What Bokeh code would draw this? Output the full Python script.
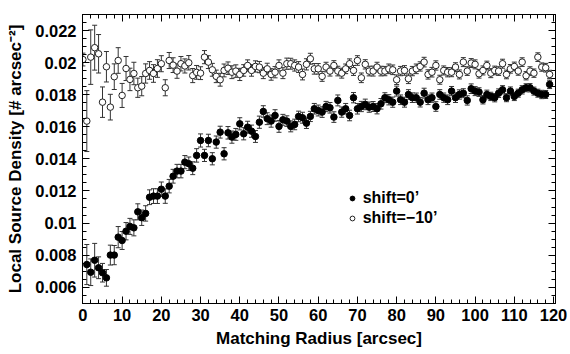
from bokeh.plotting import figure
from bokeh.models import (ColumnDataSource, Whisker, TeeHead, LinearAxis, SingleIntervalTicker,
                          CustomJSTickFormatter, Legend, LegendItem, Range1d)
from bokeh.embed import file_html
from bokeh.resources import INLINE

# ---------------- data ----------------
shift0_x = list(range(1, 120))
shift0_y = [
    0.00741, 0.00693, 0.00768, 0.00721, 0.00690, 0.00658, 0.00800, 0.00800, 0.00912, 0.00891,
    0.00949, 0.00979, 0.00970, 0.01070, 0.01033, 0.01060, 0.01161, 0.01168, 0.01168, 0.01211,
    0.01168, 0.01230, 0.01292, 0.01324, 0.01324, 0.01380, 0.01370, 0.01342, 0.01422, 0.01515,
    0.01422, 0.01515, 0.01401, 0.01505, 0.01567, 0.01432, 0.01563, 0.01536, 0.01553, 0.01619,
    0.01557, 0.01598, 0.01573, 0.01540, 0.01629, 0.01696, 0.01651, 0.01636, 0.01671, 0.01603,
    0.01644, 0.01636, 0.01603, 0.01615, 0.01665, 0.01657, 0.01623, 0.01665, 0.01713, 0.01702,
    0.01692, 0.01727, 0.01719, 0.01661, 0.01765, 0.01692, 0.01713, 0.01671, 0.01782, 0.01713,
    0.01727, 0.01740, 0.01723, 0.01727, 0.01713, 0.01744, 0.01782, 0.01769, 0.01754, 0.01823,
    0.01769, 0.01754, 0.01802, 0.01782, 0.01782, 0.01754, 0.01810, 0.01769, 0.01782, 0.01727,
    0.01802, 0.01782, 0.01769, 0.01823, 0.01782, 0.01802, 0.01810, 0.01765, 0.01838, 0.01823,
    0.01817, 0.01769, 0.01802, 0.01790, 0.01782, 0.01810, 0.01831, 0.01782, 0.01823, 0.01790,
    0.01810, 0.01831, 0.01844, 0.01844, 0.01823, 0.01810, 0.01802, 0.01802, 0.01865,
]
shift0_err = [
    0.00125, 0.00083, 0.00105, 0.00068, 0.00058, 0.00052, 0.00062, 0.00060, 0.00066, 0.00056,
    0.00054, 0.00050, 0.00050, 0.00050, 0.00048, 0.00048, 0.00046, 0.00046, 0.00046, 0.00045,
    0.00045, 0.00042, 0.00043, 0.00042, 0.00042, 0.00041, 0.00042, 0.00040, 0.00042, 0.00041,
    0.00038, 0.00039, 0.00038, 0.00038, 0.00037, 0.00038, 0.00039, 0.00038, 0.00037, 0.00038,
    0.00038, 0.00037, 0.00038, 0.00037, 0.00038, 0.00036, 0.00037, 0.00038, 0.00036, 0.00037,
    0.00034, 0.00033, 0.00034, 0.00033, 0.00033, 0.00034, 0.00033, 0.00032, 0.00033, 0.00034,
    0.00033, 0.00032, 0.00033, 0.00033, 0.00034, 0.00032, 0.00033, 0.00033, 0.00032, 0.00033,
    0.00032, 0.00033, 0.00032, 0.00031, 0.00032, 0.00033, 0.00031, 0.00032, 0.00032, 0.00031,
    0.00030, 0.00031, 0.00030, 0.00030, 0.00029, 0.00030, 0.00031, 0.00030, 0.00029, 0.00030,
    0.00030, 0.00029, 0.00030, 0.00029, 0.00030, 0.00029, 0.00028, 0.00029, 0.00030, 0.00028,
    0.00027, 0.00026, 0.00027, 0.00026, 0.00026, 0.00027, 0.00026, 0.00025, 0.00026, 0.00026,
    0.00025, 0.00026, 0.00025, 0.00026, 0.00025, 0.00025, 0.00026, 0.00025, 0.00026,
]

shift10_x = list(range(0, 120))
shift10_y = [
    0.02020, 0.01636, 0.02035, 0.02094, 0.02056, 0.01754, 0.01975, 0.01723, 0.01913, 0.02014,
    0.01796, 0.01964, 0.01896, 0.01933, 0.01844, 0.01854, 0.01933, 0.01952, 0.01933, 0.01964,
    0.01994, 0.01844, 0.02014, 0.01985, 0.01948, 0.01994, 0.01980, 0.02000, 0.01920, 0.01940,
    0.01935, 0.02035, 0.02004, 0.01956, 0.01915, 0.01894, 0.01952, 0.01966, 0.01941, 0.01948,
    0.01927, 0.01952, 0.01983, 0.01952, 0.01977, 0.01973, 0.01935, 0.01962, 0.01927, 0.01941,
    0.01983, 0.01935, 0.01994, 0.01994, 0.01983, 0.01973, 0.01927, 0.01990, 0.02025, 0.01962,
    0.01962, 0.01915, 0.01973, 0.01948, 0.01983, 0.01948, 0.01935, 0.01962, 0.01994, 0.01952,
    0.02014, 0.01906, 0.01990, 0.01948, 0.01948, 0.01973, 0.01948, 0.01948, 0.01962, 0.01956,
    0.01894, 0.01948, 0.01952, 0.01900, 0.01948, 0.01962, 0.01977, 0.02004, 0.01927, 0.01941,
    0.01983, 0.01894, 0.01952, 0.01941, 0.01941, 0.01973, 0.01927, 0.02004, 0.01948, 0.01998,
    0.01990, 0.01931, 0.01952, 0.01983, 0.01935, 0.01952, 0.01948, 0.01994, 0.01927, 0.01962,
    0.01977, 0.01948, 0.02004, 0.01919, 0.01948, 0.01935, 0.02035, 0.01973, 0.01969, 0.01927,
]
shift10_err = [
    0.00040, 0.00190, 0.00170, 0.00140, 0.00120, 0.00095, 0.00095, 0.00080, 0.00080, 0.00080,
    0.00075, 0.00075, 0.00070, 0.00070, 0.00060, 0.00060, 0.00060, 0.00055, 0.00055, 0.00055,
    0.00050, 0.00050, 0.00050, 0.00046, 0.00045, 0.00045, 0.00044, 0.00045, 0.00044, 0.00043,
    0.00040, 0.00041, 0.00040, 0.00040, 0.00039, 0.00040, 0.00040, 0.00039, 0.00040, 0.00039,
    0.00038, 0.00036, 0.00035, 0.00036, 0.00035, 0.00035, 0.00034, 0.00035, 0.00036, 0.00035,
    0.00035, 0.00034, 0.00035, 0.00034, 0.00035, 0.00034, 0.00034, 0.00035, 0.00034, 0.00033,
    0.00033, 0.00031, 0.00030, 0.00031, 0.00030, 0.00030, 0.00031, 0.00030, 0.00030, 0.00031,
    0.00030, 0.00030, 0.00029, 0.00030, 0.00031, 0.00030, 0.00030, 0.00029, 0.00030, 0.00030,
    0.00030, 0.00029, 0.00030, 0.00030, 0.00029, 0.00030, 0.00029, 0.00030, 0.00029, 0.00030,
    0.00029, 0.00028, 0.00028, 0.00029, 0.00028, 0.00027, 0.00028, 0.00028, 0.00027, 0.00028,
    0.00028, 0.00027, 0.00028, 0.00027, 0.00028, 0.00027, 0.00027, 0.00028, 0.00027, 0.00027,
    0.00027, 0.00026, 0.00027, 0.00026, 0.00027, 0.00026, 0.00027, 0.00026, 0.00027, 0.00026,
]

labels = ["shift=0\u2019", "shift=\u221210\u2019"]
x_title = "Matching Radius [arcsec]"
y_title = "Local Source Density [# arcsec\u207b\u00b2]"

# ---------------- figure ----------------
FONT = "Liberation Sans"
p = figure(width=570, height=354, output_backend="svg", toolbar_location=None,
           x_range=Range1d(-0.1, 120.5), y_range=Range1d(0.00498, 0.02301),
           min_border_left=82, min_border_right=15, min_border_top=14, min_border_bottom=51)
p.xgrid.visible = False
p.ygrid.visible = False
p.outline_line_color = "black"
p.outline_line_width = 1
p.background_fill_color = "white"
p.border_fill_color = "white"


def style_axis(ax, show_labels=True):
    ax.major_tick_in = 7
    ax.major_tick_out = 0
    ax.minor_tick_in = 4
    ax.minor_tick_out = 0
    ax.axis_line_color = "black"
    ax.major_tick_line_color = "black"
    ax.minor_tick_line_color = "black"
    if show_labels:
        ax.major_label_text_font = FONT
        ax.major_label_text_font_style = "bold"
        ax.major_label_text_font_size = "16.5px"
        ax.major_label_text_color = "black"
        ax.axis_label_text_font = FONT
        ax.axis_label_text_font_style = "bold"
        ax.axis_label_text_font_size = "17px"
        ax.axis_label_text_color = "black"
    else:
        ax.major_label_text_font_size = "0px"
        ax.major_label_standoff = 0
        ax.formatter = CustomJSTickFormatter(code="return '';")


xaxis = p.xaxis[0]
yaxis = p.yaxis[0]
xaxis.ticker = SingleIntervalTicker(interval=10, num_minor_ticks=5)
yaxis.ticker = SingleIntervalTicker(interval=0.002, num_minor_ticks=4)
yaxis.formatter = CustomJSTickFormatter(code="return tick.toFixed(3).replace(/0+$/, '');")
style_axis(xaxis)
style_axis(yaxis)
xaxis.axis_label = x_title
yaxis.axis_label = y_title
xaxis.major_label_standoff = 5
xaxis.axis_label_standoff = 5
yaxis.major_label_standoff = 6
yaxis.axis_label_standoff = 7

top = LinearAxis(ticker=SingleIntervalTicker(interval=10, num_minor_ticks=5))
style_axis(top, show_labels=False)
p.add_layout(top, "above")
right = LinearAxis(ticker=SingleIntervalTicker(interval=0.002, num_minor_ticks=4))
style_axis(right, show_labels=False)
p.add_layout(right, "right")

# ---------------- error bars ----------------
src10 = ColumnDataSource(dict(x=shift10_x, y=shift10_y,
                              lo=[v - e for v, e in zip(shift10_y, shift10_err)],
                              hi=[v + e for v, e in zip(shift10_y, shift10_err)]))
src0 = ColumnDataSource(dict(x=shift0_x, y=shift0_y,
                             lo=[v - e for v, e in zip(shift0_y, shift0_err)],
                             hi=[v + e for v, e in zip(shift0_y, shift0_err)]))

for src in (src10, src0):
    w = Whisker(source=src, base="x", upper="hi", lower="lo", dimension="height",
                line_color="#333333", line_width=1, level="underlay",
                upper_head=TeeHead(size=5, line_color="#333333", line_width=1),
                lower_head=TeeHead(size=5, line_color="#333333", line_width=1))
    p.add_layout(w)

r10 = p.scatter("x", "y", source=src10, marker="circle", size=6.5,
                fill_color="white", line_color="#222222", line_width=1)
r0 = p.scatter("x", "y", source=src0, marker="circle", size=6.5,
               fill_color="black", line_color="black", line_width=1)

legend = Legend(items=[LegendItem(label=labels[0], renderers=[r0]),
                       LegendItem(label=labels[1], renderers=[r10])],
                location=(263.7, 74.7), orientation="vertical", padding=0, margin=0,
                spacing=0, glyph_width=12, glyph_height=14, label_standoff=5,
                label_height=20, label_text_font=FONT, label_text_font_style="bold",
                label_text_font_size="16px", label_text_color="black",
                border_line_color=None, background_fill_alpha=0)
p.add_layout(legend)

open("out.html", "w").write(file_html(p, INLINE))
